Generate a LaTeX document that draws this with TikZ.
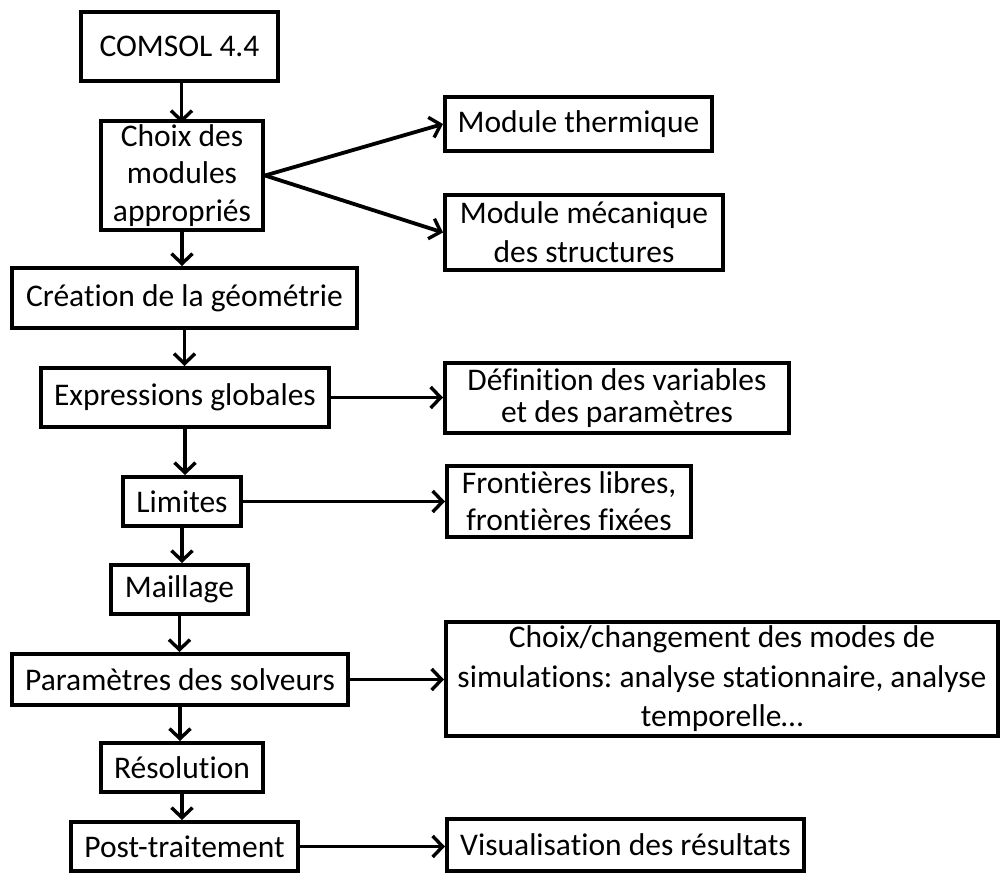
\documentclass[tikz,border=0pt]{standalone}
\usepackage{fontspec}
\setmainfont{Carlito}[Ligatures=NoCommon]
\usetikzlibrary{arrows.meta}
\frenchspacing
\begin{document}
\begin{tikzpicture}[x=1pt,y=-1pt,
  box/.style={draw=black,line width=4pt,fill=white,inner sep=0pt,align=center,
    font=\fontsize{31.5}{37}\selectfont},
  arr/.style={line width=3.8pt,-{Straight Barb[length=10pt,width=21pt,line width=3.4pt]}},
  line join=miter]
\useasboundingbox (0,0) rectangle (1002,873);
\node[box,minimum width=197pt,minimum height=69pt] (comsol) at (179.5,46.5) {COMSOL 4.4};
\node[box,minimum width=162pt,minimum height=109pt,font=\fontsize{31.5}{37.5}\selectfont] (choix) at (182,175.5) {Choix des\\modules\\appropriés};
\node[box,minimum width=267pt,minimum height=54pt] (therm) at (578.5,124) {Module thermique};
\node[box,minimum width=278pt,minimum height=75pt,font=\fontsize{31.5}{39}\selectfont] (meca) at (584,232.5) {Module mécanique\\des structures};
\node[box,minimum width=345pt,minimum height=60pt] (crea) at (184.5,298) {Création de la géométrie};
\node[box,minimum width=288pt,minimum height=59pt] (expr) at (185,397.5) {Expressions globales};
\node[box,minimum width=344pt,minimum height=70pt,font=\fontsize{31.5}{32}\selectfont] (defn) at (617,398) {Définition des variables\\et des paramètres};
\node[box,minimum width=118pt,minimum height=49pt] (lim) at (182,501.5) {Limites};
\node[box,minimum width=244pt,minimum height=71pt] (front) at (569,501.5) {Frontières libres,\\frontières fixées};
\node[box,minimum width=137pt,minimum height=49pt] (mail) at (179.5,589.5) {Maillage};
\node[box,minimum width=336pt,minimum height=51pt] (param) at (180,679.5) {Paramètres des solveurs};
\node[box,minimum width=552pt,minimum height=114pt,font=\fontsize{31.5}{39.5}\selectfont] (choixc) at (722,679) {Choix/changement des modes de\\simulations: analyse stationnaire, analyse\\temporelle…};
\node[box,minimum width=162pt,minimum height=49pt] (reso) at (182,767.5) {Résolution};
\node[box,minimum width=227pt,minimum height=49pt] (post) at (184.5,846.5) {Post-traitement};
\node[box,minimum width=357pt,minimum height=52pt] (visu) at (625.5,845) {Visualisation des résultats};

\draw[arr] (comsol.south) ++(2,0) -- ++(0,40);
\draw[arr] (choix.south) -- (choix.south |- crea.north);
\draw[arr] (choix.east) -- (therm.west);
\draw[arr] (choix.east) -- (meca.west);
\draw[arr] (crea.south) -- (crea.south |- expr.north);
\draw[arr] (expr.south) -- (expr.south |- lim.north);
\draw[arr] (expr.east) -- (expr.east -| defn.west);
\draw[arr] (lim.south) -- (lim.south |- mail.north);
\draw[arr] (lim.east) -- (lim.east -| front.west);
\draw[arr] (mail.south) -- (mail.south |- param.north);
\draw[arr] (param.south) -- (param.south |- reso.north);
\draw[arr] (param.east) -- (param.east -| choixc.west);
\draw[arr] (reso.south) -- (reso.south |- post.north);
\draw[arr] (post.east) -- (post.east -| visu.west);
\end{tikzpicture}
\end{document}
